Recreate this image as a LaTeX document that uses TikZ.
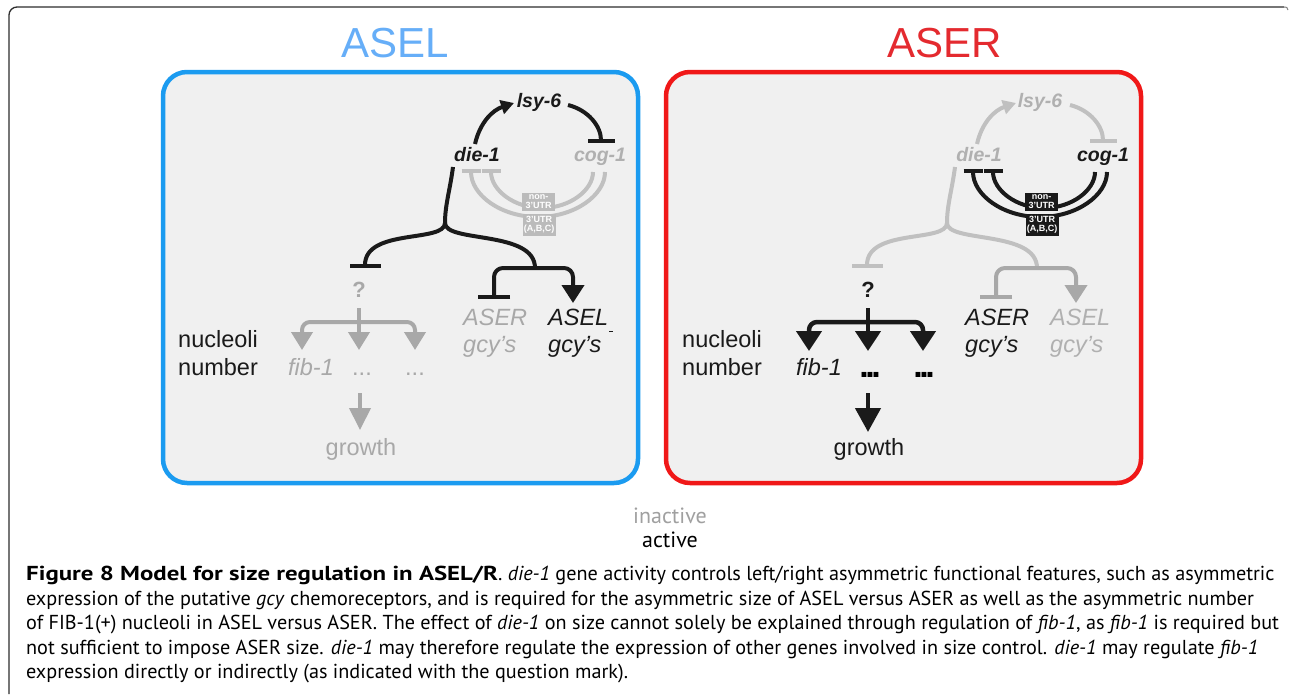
\documentclass[tikz,border=0pt]{standalone}
\usepackage{fontspec}
\setmainfont{Liberation Sans}
\newfontfamily\capfont{PT Sans}[BoldFeatures={FakeStretch=1.23}]
\usetikzlibrary{arrows.meta}

\definecolor{panelbg}{HTML}{F0F0F0}
\definecolor{aselblue}{HTML}{1B9BF0}
\definecolor{titleblue}{HTML}{66AEF8}
\definecolor{aserred}{HTML}{F01818}
\definecolor{titlered}{HTML}{E42A2F}
\definecolor{ink}{HTML}{1A1A1A}
\definecolor{gline}{HTML}{C0C0C0}
\definecolor{gmid}{HTML}{A8A8A8}
\definecolor{gtext}{HTML}{B0B0B0}
\definecolor{gbox}{HTML}{BBBBBB}
\definecolor{framegray}{HTML}{2E2E2E}
\definecolor{capgray}{HTML}{A0A0A0}

\newcommand\genefont{\fontsize{19.5}{20}\selectfont\bfseries\itshape}
\newcommand\labelfont{\fontsize{23.5}{24}\selectfont}
\newcommand\gcyfont{\fontsize{23.5}{24}\selectfont\itshape}
\newcommand\qfont{\fontsize{22}{22}\selectfont\bfseries}

\tikzset{
  gene/.style={font=\genefont, inner sep=0pt, anchor=base},
  word/.style={font=\labelfont, inner sep=0pt, anchor=base west},
  cword/.style={font=\labelfont, inner sep=0pt, anchor=base},
  gcy/.style={font=\gcyfont, inner sep=0pt, anchor=base west},
  cgcy/.style={font=\gcyfont, inner sep=0pt, anchor=base},
  qmark/.style={font=\qfont, inner sep=0pt, anchor=base},
  wire/.style={line width=4pt, line join=round},
  panel/.style={line width=4.5pt, rounded corners=24pt, fill=panelbg},
  title/.style={font=\fontsize{42}{42}\selectfont, inner sep=0pt, anchor=base},
  utrbox/.style={inner sep=0pt, minimum width=33pt, font=\fontsize{9}{9.2}\selectfont\bfseries,
                 text=white, align=center},
  arr/.style={-{Triangle[length=18pt,width=21pt]}},
  bigarr/.style={-{Triangle[length=20pt,width=25pt]}},
  smallarr/.style={-{Triangle[length=13pt,width=14pt]}},
  legend/.style={inner sep=0pt, anchor=base, font=\capfont\fontsize{22}{22}\selectfont},
}

\begin{document}
\begin{tikzpicture}[x=1pt,y=-1pt]
\useasboundingbox (0,0) rectangle (1290,696);
\fill[white] (0,0) rectangle (1290,696);

% outer figure frame
\draw[framegray, line width=1.3pt, rounded corners=8pt] (9,694) -- (9,7) -- (1284,7);
\draw[gray, line width=1pt] (1284,7) .. controls (1287,7) .. (1288,10);

% ---------------- ASEL panel ----------------
\node[title, text=titleblue] (tASEL) at (395,57) {ASEL};
\draw[panel, draw=aselblue] (163,72) rectangle (638,483);

\node[gene, text=ink] (Llsy) at (539,107) {lsy-6};
\node[gene, text=ink] (Ldie) at (477,161) {die-1};
\node[gene, text=gtext] (Lcog) at (600,161) {cog-1};

\draw[wire, ink, smallarr] (475,144) .. controls (480,122) and (493,110) .. (514,103);
\draw[wire, ink, -{Bar[width=27pt]}] (568,105) .. controls (588,110) and (601,126) .. (601,143);

% cog-1 repression of die-1 through the two UTR routes
\draw[wire, gline, {Bar[width=19pt]}-] (471,169) .. controls (471,195) and (501,217) .. (538,217)
      .. controls (575,217) and (605,195) .. (605,172);
\draw[wire, gline, {Bar[width=19pt]}-] (491,169) .. controls (491,190) and (514,208) .. (542,208)
      .. controls (570,208) and (593,190) .. (593,172);
\node[utrbox, fill=gbox, minimum height=18pt] (Lnon) at (538.5,202) {non-\\3’UTR};
\node[utrbox, fill=gbox, minimum height=22pt] (Lutr) at (539,225) {3’UTR\\(A,B,C)};

% die-1 outputs
\coordinate (Ljn) at (445,223);
\draw[wire, ink] (453,167) .. controls (450,190) and (445,205) .. (Ljn);
\draw[wire, ink, -{Bar[width=31pt]}] (Ljn) .. controls (445,243) and (365,228) .. (365,268);
\draw[wire, ink] (Ljn) .. controls (445,243) and (535,230) .. (535,268);
\draw[wire, ink, rounded corners=9pt, {Bar[width=32pt]}-{Triangle[length=18pt,width=22pt]}]
      (494,299) -- (494,268) -- (573,268) -- (573,303);

\node[gcy, text=gmid] (Laser) at (463,325) {ASER};
\node[gcy, text=gmid] (Lasergcy) at (463,352) {gcy’s};
\node[gcy, text=ink] (Lasel) at (548,325) {ASEL};
\node[gcy, text=ink] (Laselgcy) at (548,352) {gcy’s};
\draw[ink, line width=1pt] (609,331) -- (613,331);

\node[qmark, text=gmid] (Lq) at (359,297) {?};
\draw[wire, gmid, arr] (359,308) -- (359,350);
\draw[wire, gmid, rounded corners=8pt, {Triangle[length=18pt,width=21pt]}-{Triangle[length=18pt,width=21pt]}]
      (302,350) -- (302,322) -- (415,322) -- (415,350);

\node[word, text=ink] (Lnuc) at (178,347) {nucleoli};
\node[word, text=ink] (Lnum) at (178,375) {number};
\node[cgcy, text=gmid] (Lfib) at (311,375) {fib-1};
\node[cword, text=gmid] (Ldots1) at (362,375) {...};
\node[cword, text=gmid] (Ldots2) at (415,375) {...};
\draw[wire, gmid, -{Triangle[length=22pt,width=21pt]}] (360,393) -- (360,430);
\node[cword, text=gmid] (Lgrowth) at (361,455) {growth};

% ---------------- ASER panel ----------------
\node[title, text=titlered] (tASER) at (945,57) {ASER};
\draw[panel, draw=aserred] (666,72) rectangle (1141,483);

\node[gene, text=gtext] (Rlsy) at (1040,107) {lsy-6};
\node[gene, text=gtext] (Rdie) at (979,161) {die-1};
\node[gene, text=ink] (Rcog) at (1103,161) {cog-1};

\draw[wire, gline, smallarr] (977,144) .. controls (982,122) and (995,110) .. (1016,103);
\draw[wire, gline, -{Bar[width=27pt]}] (1070,105) .. controls (1090,110) and (1103,126) .. (1103,143);

\draw[wire, ink, {Bar[width=19pt]}-] (973,169) .. controls (973,195) and (1003,217) .. (1040,217)
      .. controls (1077,217) and (1107,195) .. (1107,172);
\draw[wire, ink, {Bar[width=19pt]}-] (993,169) .. controls (993,190) and (1016,208) .. (1044,208)
      .. controls (1072,208) and (1095,190) .. (1095,172);
\node[utrbox, fill=ink, minimum height=18pt] (Rnon) at (1041.5,202) {non-\\3’UTR};
\node[utrbox, fill=ink, minimum height=22pt] (Rutr) at (1042,225) {3’UTR\\(A,B,C)};

\coordinate (Rjn) at (947,223);
\draw[wire, gline] (955,167) .. controls (952,190) and (947,205) .. (Rjn);
\draw[wire, gline, -{Bar[width=31pt]}] (Rjn) .. controls (947,243) and (867,228) .. (867,268);
\draw[wire, gline] (Rjn) .. controls (947,243) and (1037,230) .. (1037,268);
\draw[wire, gmid, rounded corners=9pt, {Bar[width=32pt]}-{Triangle[length=18pt,width=22pt]}]
      (996,299) -- (996,268) -- (1076,268) -- (1076,303);

\node[gcy, text=ink] (Raser) at (965,325) {ASER};
\node[gcy, text=ink] (Rasergcy) at (965,352) {gcy’s};
\node[gcy, text=gtext] (Rasel) at (1050,325) {ASEL};
\node[gcy, text=gtext] (Raselgcy) at (1050,352) {gcy’s};

\node[qmark, text=ink] (Rq) at (868,297) {?};
\draw[wire, ink, line width=4.5pt, bigarr] (868,308) -- (868,351);
\draw[wire, ink, line width=4.5pt, rounded corners=8pt,
      {Triangle[length=20pt,width=25pt]}-{Triangle[length=20pt,width=25pt]}]
      (809,351) -- (809,322) -- (923,322) -- (923,351);

\node[word, text=ink] (Rnuc) at (682,347) {nucleoli};
\node[word, text=ink] (Rnum) at (682,375) {number};
\node[cgcy, text=ink] (Rfib) at (819,375) {fib-1};
\node[inner sep=0pt, anchor=base, font=\fontsize{34}{34}\selectfont\bfseries] (Rdots1) at (870,377) {.\kern-3.5pt.\kern-3.5pt.};
\node[inner sep=0pt, anchor=base, font=\fontsize{34}{34}\selectfont\bfseries] (Rdots2) at (924,377) {.\kern-3.5pt.\kern-3.5pt.};
\draw[wire, ink, line width=4.5pt, -{Triangle[length=24pt,width=25pt]}] (868,393) -- (868,432);
\node[cword, text=ink] (Rgrowth) at (869,455) {growth};

% ---------------- legend and caption ----------------
\node[legend, text=capgray] (inactive) at (670,523) {inactive};
\node[legend, text=black] (active) at (670,547) {active};

\node[inner sep=0pt, anchor=north west, align=left, text=black,
      font=\capfont\fontsize{20.2}{24.5}\selectfont] (caption) at (26,566)
{\textbf{Figure 8 Model for size regulation in ASEL/R}. \textit{die-1} gene activity controls left/right asymmetric functional features, such as asymmetric\\
expression of the putative \textit{gcy} chemoreceptors, and is required for the asymmetric size of ASEL versus ASER as well as the asymmetric number\\
of FIB-1(+) nucleoli in ASEL versus ASER. The effect of \textit{die-1} on size cannot solely be explained through regulation of \textit{fib-1}, as \textit{fib-1} is required but\\
not sufficient to impose ASER size. \textit{die-1} may therefore regulate the expression of other genes involved in size control. \textit{die-1} may regulate \textit{fib-1}\\
expression directly or indirectly (as indicated with the question mark).};
\end{tikzpicture}
\end{document}
